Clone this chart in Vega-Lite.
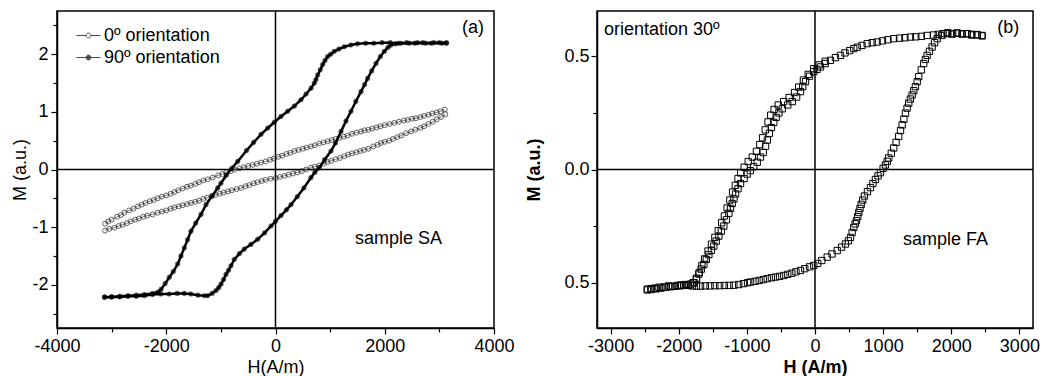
{
  "$schema": "https://vega.github.io/schema/vega-lite/v6.json",
  "padding": {"left": 11, "top": 9, "right": 0, "bottom": 2},
  "spacing": 10,
  "config": {
    "font": "Liberation Sans",
    "view": {"stroke": "black", "strokeWidth": 1.5},
    "axis": {"domainColor": "black", "domainWidth": 1.5, "tickColor": "black", "tickWidth": 1.2, "labelColor": "black", "labelFontSize": 18, "labelFont": "Liberation Sans", "titleFont": "Liberation Sans", "titleFontSize": 18, "titleColor": "black", "titleFontWeight": "normal", "grid": false, "labelFlush": false, "labelOverlap": false, "labelBound": false},
    "text": {"font": "Liberation Sans", "fontSize": 18, "color": "black"}
  },
  "datasets": {
    "a90": [
      {"b":"u","H":3130,"M":2.19},{"b":"u","H":3000,"M":2.2},{"b":"u","H":2850,"M":2.19},{"b":"u","H":2700,"M":2.2},{"b":"u","H":2550,"M":2.19},{"b":"u","H":2400,"M":2.2},{"b":"u","H":2250,"M":2.19},{"b":"u","H":2100,"M":2.2},{"b":"u","H":1950,"M":2.2},{"b":"u","H":1800,"M":2.19},{"b":"u","H":1650,"M":2.19},{"b":"u","H":1500,"M":2.18},{"b":"u","H":1380,"M":2.16},{"b":"u","H":1260,"M":2.13},{"b":"u","H":1160,"M":2.09},{"b":"u","H":1077,"M":2.05},{"b":"u","H":1010,"M":2.0},{"b":"u","H":955,"M":1.96},{"b":"u","H":905,"M":1.89},{"b":"u","H":864,"M":1.82},{"b":"u","H":820,"M":1.73},{"b":"u","H":772,"M":1.64},{"b":"u","H":740,"M":1.56},{"b":"u","H":711,"M":1.5},{"b":"u","H":650,"M":1.41},{"b":"u","H":560,"M":1.31},{"b":"u","H":467,"M":1.21},{"b":"u","H":345,"M":1.1},{"b":"u","H":223,"M":1.01},{"b":"u","H":100,"M":0.92},{"b":"u","H":-22,"M":0.82},{"b":"u","H":-140,"M":0.72},{"b":"u","H":-265,"M":0.61},{"b":"u","H":-400,"M":0.47},{"b":"u","H":-530,"M":0.33},{"b":"u","H":-692,"M":0.14},{"b":"u","H":-800,"M":0.02},{"b":"u","H":-900,"M":-0.1},{"b":"u","H":-1000,"M":-0.24},{"b":"u","H":-1058,"M":-0.32},{"b":"u","H":-1160,"M":-0.46},{"b":"u","H":-1272,"M":-0.61},{"b":"u","H":-1364,"M":-0.78},{"b":"u","H":-1460,"M":-0.93},{"b":"u","H":-1547,"M":-1.07},{"b":"u","H":-1610,"M":-1.22},{"b":"u","H":-1669,"M":-1.36},{"b":"u","H":-1730,"M":-1.5},{"b":"u","H":-1791,"M":-1.64},{"b":"u","H":-1870,"M":-1.77},{"b":"u","H":-1944,"M":-1.87},{"b":"u","H":-2020,"M":-1.98},{"b":"u","H":-2096,"M":-2.08},{"b":"u","H":-2157,"M":-2.13},{"b":"u","H":-2250,"M":-2.15},{"b":"u","H":-2400,"M":-2.17},{"b":"u","H":-2550,"M":-2.18},{"b":"u","H":-2700,"M":-2.19},{"b":"u","H":-2850,"M":-2.2},{"b":"u","H":-3000,"M":-2.21},{"b":"u","H":-3130,"M":-2.21},
      {"b":"l","H":-3130,"M":-2.22},{"b":"l","H":-3000,"M":-2.21},{"b":"l","H":-2850,"M":-2.21},{"b":"l","H":-2700,"M":-2.2},{"b":"l","H":-2550,"M":-2.2},{"b":"l","H":-2400,"M":-2.19},{"b":"l","H":-2250,"M":-2.17},{"b":"l","H":-2100,"M":-2.16},{"b":"l","H":-1950,"M":-2.16},{"b":"l","H":-1800,"M":-2.15},{"b":"l","H":-1669,"M":-2.15},{"b":"l","H":-1550,"M":-2.16},{"b":"l","H":-1420,"M":-2.18},{"b":"l","H":-1300,"M":-2.19},{"b":"l","H":-1242,"M":-2.19},{"b":"l","H":-1160,"M":-2.15},{"b":"l","H":-1089,"M":-2.1},{"b":"l","H":-1040,"M":-2.05},{"b":"l","H":-998,"M":-1.99},{"b":"l","H":-950,"M":-1.91},{"b":"l","H":-906,"M":-1.82},{"b":"l","H":-860,"M":-1.75},{"b":"l","H":-815,"M":-1.67},{"b":"l","H":-754,"M":-1.56},{"b":"l","H":-660,"M":-1.46},{"b":"l","H":-571,"M":-1.38},{"b":"l","H":-450,"M":-1.3},{"b":"l","H":-326,"M":-1.21},{"b":"l","H":-200,"M":-1.1},{"b":"l","H":-82,"M":-0.98},{"b":"l","H":0,"M":-0.9},{"b":"l","H":100,"M":-0.8},{"b":"l","H":200,"M":-0.7},{"b":"l","H":284,"M":-0.61},{"b":"l","H":400,"M":-0.47},{"b":"l","H":520,"M":-0.32},{"b":"l","H":650,"M":-0.14},{"b":"l","H":720,"M":-0.05},{"b":"l","H":802,"M":0.03},{"b":"l","H":900,"M":0.17},{"b":"l","H":1016,"M":0.32},{"b":"l","H":1100,"M":0.46},{"b":"l","H":1199,"M":0.66},{"b":"l","H":1290,"M":0.84},{"b":"l","H":1382,"M":1.01},{"b":"l","H":1470,"M":1.18},{"b":"l","H":1565,"M":1.35},{"b":"l","H":1630,"M":1.47},{"b":"l","H":1687,"M":1.58},{"b":"l","H":1760,"M":1.71},{"b":"l","H":1840,"M":1.84},{"b":"l","H":1920,"M":1.96},{"b":"l","H":1993,"M":2.05},{"b":"l","H":2060,"M":2.12},{"b":"l","H":2114,"M":2.16},{"b":"l","H":2200,"M":2.18},{"b":"l","H":2297,"M":2.19},{"b":"l","H":2450,"M":2.19},{"b":"l","H":2600,"M":2.2},{"b":"l","H":2750,"M":2.19},{"b":"l","H":2900,"M":2.2},{"b":"l","H":3050,"M":2.19},{"b":"l","H":3130,"M":2.2}
    ],
    "a0": [
      {"b":"u","H":3100,"M":1.04},{"b":"u","H":3020,"M":1.01},{"b":"u","H":2950,"M":0.99},{"b":"u","H":2870,"M":0.97},{"b":"u","H":2800,"M":0.95},{"b":"u","H":2720,"M":0.93},{"b":"u","H":2650,"M":0.91},{"b":"u","H":2570,"M":0.89},{"b":"u","H":2500,"M":0.88},{"b":"u","H":2420,"M":0.86},{"b":"u","H":2350,"M":0.85},{"b":"u","H":2260,"M":0.83},{"b":"u","H":2175,"M":0.81},{"b":"u","H":2090,"M":0.79},{"b":"u","H":2000,"M":0.77},{"b":"u","H":1920,"M":0.75},{"b":"u","H":1850,"M":0.73},{"b":"u","H":1770,"M":0.71},{"b":"u","H":1700,"M":0.69},{"b":"u","H":1630,"M":0.68},{"b":"u","H":1565,"M":0.66},{"b":"u","H":1480,"M":0.64},{"b":"u","H":1400,"M":0.62},{"b":"u","H":1320,"M":0.59},{"b":"u","H":1250,"M":0.57},{"b":"u","H":1170,"M":0.55},{"b":"u","H":1100,"M":0.53},{"b":"u","H":1030,"M":0.51},{"b":"u","H":955,"M":0.49},{"b":"u","H":880,"M":0.47},{"b":"u","H":800,"M":0.45},{"b":"u","H":720,"M":0.42},{"b":"u","H":650,"M":0.4},{"b":"u","H":570,"M":0.38},{"b":"u","H":500,"M":0.36},{"b":"u","H":420,"M":0.34},{"b":"u","H":345,"M":0.32},{"b":"u","H":270,"M":0.29},{"b":"u","H":200,"M":0.27},{"b":"u","H":120,"M":0.24},{"b":"u","H":50,"M":0.22},{"b":"u","H":-30,"M":0.19},{"b":"u","H":-100,"M":0.17},{"b":"u","H":-180,"M":0.14},{"b":"u","H":-265,"M":0.12},{"b":"u","H":-340,"M":0.1},{"b":"u","H":-420,"M":0.08},{"b":"u","H":-500,"M":0.06},{"b":"u","H":-580,"M":0.04},{"b":"u","H":-660,"M":0.02},{"b":"u","H":-750,"M":0.0},{"b":"u","H":-820,"M":-0.03},{"b":"u","H":-900,"M":-0.05},{"b":"u","H":-970,"M":-0.08},{"b":"u","H":-1050,"M":-0.1},{"b":"u","H":-1150,"M":-0.14},{"b":"u","H":-1242,"M":-0.17},{"b":"u","H":-1320,"M":-0.19},{"b":"u","H":-1400,"M":-0.22},{"b":"u","H":-1470,"M":-0.25},{"b":"u","H":-1550,"M":-0.28},{"b":"u","H":-1620,"M":-0.3},{"b":"u","H":-1700,"M":-0.33},{"b":"u","H":-1780,"M":-0.36},{"b":"u","H":-1850,"M":-0.39},{"b":"u","H":-1920,"M":-0.42},{"b":"u","H":-2000,"M":-0.45},{"b":"u","H":-2080,"M":-0.47},{"b":"u","H":-2157,"M":-0.5},{"b":"u","H":-2230,"M":-0.53},{"b":"u","H":-2300,"M":-0.55},{"b":"u","H":-2380,"M":-0.58},{"b":"u","H":-2450,"M":-0.61},{"b":"u","H":-2520,"M":-0.64},{"b":"u","H":-2600,"M":-0.68},{"b":"u","H":-2680,"M":-0.71},{"b":"u","H":-2767,"M":-0.75},{"b":"u","H":-2830,"M":-0.79},{"b":"u","H":-2900,"M":-0.82},{"b":"u","H":-3000,"M":-0.87},{"b":"u","H":-3060,"M":-0.9},{"b":"u","H":-3120,"M":-0.94},
      {"b":"l","H":-3120,"M":-1.06},{"b":"l","H":-3040,"M":-1.03},{"b":"l","H":-2950,"M":-1.01},{"b":"l","H":-2870,"M":-0.98},{"b":"l","H":-2800,"M":-0.96},{"b":"l","H":-2720,"M":-0.93},{"b":"l","H":-2650,"M":-0.9},{"b":"l","H":-2570,"M":-0.87},{"b":"l","H":-2500,"M":-0.85},{"b":"l","H":-2420,"M":-0.82},{"b":"l","H":-2350,"M":-0.8},{"b":"l","H":-2250,"M":-0.78},{"b":"l","H":-2157,"M":-0.75},{"b":"l","H":-2080,"M":-0.73},{"b":"l","H":-2000,"M":-0.71},{"b":"l","H":-1920,"M":-0.68},{"b":"l","H":-1850,"M":-0.66},{"b":"l","H":-1770,"M":-0.64},{"b":"l","H":-1700,"M":-0.62},{"b":"l","H":-1620,"M":-0.6},{"b":"l","H":-1547,"M":-0.58},{"b":"l","H":-1470,"M":-0.56},{"b":"l","H":-1400,"M":-0.54},{"b":"l","H":-1320,"M":-0.51},{"b":"l","H":-1250,"M":-0.49},{"b":"l","H":-1170,"M":-0.46},{"b":"l","H":-1100,"M":-0.44},{"b":"l","H":-1020,"M":-0.42},{"b":"l","H":-950,"M":-0.4},{"b":"l","H":-870,"M":-0.38},{"b":"l","H":-800,"M":-0.36},{"b":"l","H":-710,"M":-0.34},{"b":"l","H":-631,"M":-0.32},{"b":"l","H":-550,"M":-0.29},{"b":"l","H":-480,"M":-0.27},{"b":"l","H":-400,"M":-0.24},{"b":"l","H":-330,"M":-0.22},{"b":"l","H":-250,"M":-0.2},{"b":"l","H":-180,"M":-0.18},{"b":"l","H":-90,"M":-0.16},{"b":"l","H":0,"M":-0.15},{"b":"l","H":80,"M":-0.13},{"b":"l","H":162,"M":-0.11},{"b":"l","H":240,"M":-0.09},{"b":"l","H":320,"M":-0.07},{"b":"l","H":400,"M":-0.05},{"b":"l","H":480,"M":-0.03},{"b":"l","H":560,"M":0.0},{"b":"l","H":650,"M":0.03},{"b":"l","H":720,"M":0.05},{"b":"l","H":800,"M":0.07},{"b":"l","H":880,"M":0.1},{"b":"l","H":950,"M":0.13},{"b":"l","H":1020,"M":0.15},{"b":"l","H":1100,"M":0.18},{"b":"l","H":1180,"M":0.2},{"b":"l","H":1260,"M":0.23},{"b":"l","H":1330,"M":0.26},{"b":"l","H":1400,"M":0.28},{"b":"l","H":1480,"M":0.3},{"b":"l","H":1550,"M":0.32},{"b":"l","H":1620,"M":0.34},{"b":"l","H":1700,"M":0.36},{"b":"l","H":1790,"M":0.4},{"b":"l","H":1870,"M":0.43},{"b":"l","H":1930,"M":0.46},{"b":"l","H":2000,"M":0.48},{"b":"l","H":2080,"M":0.5},{"b":"l","H":2150,"M":0.53},{"b":"l","H":2230,"M":0.56},{"b":"l","H":2300,"M":0.59},{"b":"l","H":2390,"M":0.63},{"b":"l","H":2480,"M":0.66},{"b":"l","H":2560,"M":0.69},{"b":"l","H":2650,"M":0.72},{"b":"l","H":2720,"M":0.75},{"b":"l","H":2800,"M":0.79},{"b":"l","H":2880,"M":0.83},{"b":"l","H":2950,"M":0.87},{"b":"l","H":3030,"M":0.91},{"b":"l","H":3110,"M":0.96}
    ],
    "fb": [
      {"H":2450,"M":0.592},{"H":2380,"M":0.596},{"H":2300,"M":0.594},{"H":2230,"M":0.6},{"H":2160,"M":0.598},{"H":2090,"M":0.602},{"H":2020,"M":0.6},{"H":1950,"M":0.604},{"H":1880,"M":0.6},{"H":1810,"M":0.597},{"H":1740,"M":0.594},{"H":1646,"M":0.592},{"H":1560,"M":0.588},{"H":1480,"M":0.586},{"H":1401,"M":0.585},{"H":1320,"M":0.582},{"H":1240,"M":0.58},{"H":1156,"M":0.578},{"H":1070,"M":0.573},{"H":990,"M":0.568},{"H":912,"M":0.563},{"H":840,"M":0.56},{"H":766,"M":0.556},{"H":690,"M":0.548},{"H":620,"M":0.54},{"H":569,"M":0.534},{"H":510,"M":0.525},{"H":440,"M":0.515},{"H":374,"M":0.504},{"H":300,"M":0.494},{"H":227,"M":0.482},{"H":150,"M":0.468},{"H":81,"M":0.453},{"H":30,"M":0.442},{"H":-18,"M":0.432},{"H":-80,"M":0.412},{"H":-139,"M":0.388},{"H":-180,"M":0.366},{"H":-213,"M":0.344},{"H":-270,"M":0.32},{"H":-334,"M":0.3},{"H":-400,"M":0.285},{"H":-481,"M":0.268},{"H":-530,"M":0.25},{"H":-570,"M":0.23},{"H":-605,"M":0.208},{"H":-640,"M":0.185},{"H":-670,"M":0.16},{"H":-700,"M":0.13},{"H":-726,"M":0.103},{"H":-760,"M":0.075},{"H":-800,"M":0.055},{"H":-848,"M":0.032},{"H":-900,"M":0.012},{"H":-950,"M":-0.005},{"H":-995,"M":-0.02},{"H":-1040,"M":-0.04},{"H":-1093,"M":-0.062},{"H":-1130,"M":-0.085},{"H":-1166,"M":-0.108},{"H":-1190,"M":-0.13},{"H":-1215,"M":-0.15},{"H":-1240,"M":-0.172},{"H":-1264,"M":-0.193},{"H":-1300,"M":-0.222},{"H":-1338,"M":-0.25},{"H":-1375,"M":-0.272},{"H":-1411,"M":-0.294},{"H":-1450,"M":-0.316},{"H":-1485,"M":-0.338},{"H":-1520,"M":-0.357},{"H":-1558,"M":-0.376},{"H":-1595,"M":-0.397},{"H":-1631,"M":-0.419},{"H":-1670,"M":-0.44},{"H":-1705,"M":-0.462},{"H":-1740,"M":-0.485},{"H":-1775,"M":-0.5},{"H":-1826,"M":-0.506},{"H":-1900,"M":-0.508},{"H":-1970,"M":-0.51},{"H":-2021,"M":-0.512},{"H":-2090,"M":-0.516},{"H":-2150,"M":-0.514},{"H":-2218,"M":-0.519},{"H":-2290,"M":-0.52},{"H":-2350,"M":-0.524},{"H":-2410,"M":-0.526},{"H":-2461,"M":-0.528},
      {"H":150,"M":0.478},{"H":60,"M":0.462},{"H":-20,"M":0.445},{"H":-100,"M":0.42},{"H":-170,"M":0.395},{"H":-240,"M":0.364},{"H":-300,"M":0.34},{"H":-380,"M":0.318},{"H":-460,"M":0.3},{"H":-540,"M":0.285},{"H":-600,"M":0.265},{"H":-650,"M":0.24},{"H":-690,"M":0.21},{"H":-730,"M":0.175},{"H":-770,"M":0.14},{"H":-810,"M":0.11},{"H":-860,"M":0.08},{"H":-920,"M":0.055},{"H":-980,"M":0.035},{"H":-1040,"M":0.01},{"H":-1090,"M":-0.015},{"H":-1130,"M":-0.04},{"H":-1170,"M":-0.07},{"H":-1210,"M":-0.1},{"H":-1250,"M":-0.135},{"H":-1290,"M":-0.17},{"H":-1330,"M":-0.205},{"H":-1370,"M":-0.235},{"H":-1420,"M":-0.27},{"H":-1470,"M":-0.3},{"H":-1520,"M":-0.33},{"H":-1570,"M":-0.36},{"H":-1620,"M":-0.395},{"H":-1660,"M":-0.425},{"H":-1700,"M":-0.455},{"H":-1740,"M":-0.48},{"H":-1790,"M":-0.5},{"H":-1860,"M":-0.51},
      {"H":-2461,"M":-0.532},{"H":-2400,"M":-0.53},{"H":-2330,"M":-0.527},{"H":-2260,"M":-0.524},{"H":-2190,"M":-0.52},{"H":-2120,"M":-0.518},{"H":-2050,"M":-0.516},{"H":-1980,"M":-0.514},{"H":-1924,"M":-0.511},{"H":-1860,"M":-0.512},{"H":-1800,"M":-0.514},{"H":-1740,"M":-0.515},{"H":-1680,"M":-0.515},{"H":-1610,"M":-0.514},{"H":-1540,"M":-0.514},{"H":-1470,"M":-0.513},{"H":-1400,"M":-0.513},{"H":-1330,"M":-0.512},{"H":-1260,"M":-0.512},{"H":-1191,"M":-0.511},{"H":-1120,"M":-0.508},{"H":-1050,"M":-0.504},{"H":-990,"M":-0.5},{"H":-946,"M":-0.497},{"H":-880,"M":-0.494},{"H":-820,"M":-0.49},{"H":-760,"M":-0.486},{"H":-701,"M":-0.482},{"H":-640,"M":-0.478},{"H":-580,"M":-0.475},{"H":-520,"M":-0.472},{"H":-458,"M":-0.468},{"H":-400,"M":-0.463},{"H":-340,"M":-0.458},{"H":-280,"M":-0.452},{"H":-213,"M":-0.446},{"H":-150,"M":-0.438},{"H":-80,"M":-0.43},{"H":-18,"M":-0.424},{"H":40,"M":-0.415},{"H":100,"M":-0.402},{"H":179,"M":-0.387},{"H":250,"M":-0.373},{"H":326,"M":-0.358},{"H":390,"M":-0.343},{"H":447,"M":-0.329},{"H":490,"M":-0.315},{"H":521,"M":-0.3},{"H":545,"M":-0.278},{"H":569,"M":-0.256},{"H":590,"M":-0.24},{"H":609,"M":-0.226},{"H":627,"M":-0.208},{"H":643,"M":-0.19},{"H":660,"M":-0.172},{"H":678,"M":-0.154},{"H":700,"M":-0.135},{"H":726,"M":-0.117},{"H":770,"M":-0.098},{"H":814,"M":-0.08},{"H":850,"M":-0.062},{"H":887,"M":-0.044},{"H":925,"M":-0.028},{"H":961,"M":-0.014},{"H":1000,"M":0.005},{"H":1034,"M":0.02},{"H":1060,"M":0.036},{"H":1083,"M":0.051},{"H":1120,"M":0.072},{"H":1156,"M":0.095},{"H":1190,"M":0.12},{"H":1229,"M":0.146},{"H":1255,"M":0.172},{"H":1279,"M":0.197},{"H":1305,"M":0.222},{"H":1328,"M":0.249},{"H":1352,"M":0.271},{"H":1376,"M":0.293},{"H":1400,"M":0.311},{"H":1426,"M":0.329},{"H":1450,"M":0.348},{"H":1474,"M":0.366},{"H":1500,"M":0.388},{"H":1523,"M":0.41},{"H":1560,"M":0.44},{"H":1596,"M":0.468},{"H":1620,"M":0.486},{"H":1646,"M":0.504},{"H":1680,"M":0.522},{"H":1719,"M":0.541},{"H":1755,"M":0.56},{"H":1793,"M":0.578},{"H":1860,"M":0.592},{"H":1939,"M":0.6},{"H":2010,"M":0.598},{"H":2080,"M":0.603},{"H":2160,"M":0.6},{"H":2233,"M":0.6},{"H":2300,"M":0.597},{"H":2380,"M":0.594},{"H":2453,"M":0.59}
    ]
  },
  "hconcat": [
    {
      "width": 437,
      "height": 317,
      "encoding": {
        "x": {"field": "H", "type": "quantitative", "scale": {"domain": [-4000, 4000], "nice": false, "zero": false},
          "axis": {"values": [-4000, -3000, -2000, -1000, 0, 1000, 2000, 3000, 4000], "title": "H(A/m)", "labelExpr": "indexof([-4000,-2000,0,2000,4000], datum.value) >= 0 ? '' + datum.value : ''", "tickSize": {"condition": {"test": "indexof([-4000,-2000,0,2000,4000], datum.value) >= 0", "value": 6}, "value": 4}, "labelPadding": 3, "titlePadding": 3}},
        "y": {"field": "M", "type": "quantitative", "scale": {"domain": [-2.75, 2.75], "nice": false, "zero": false},
          "axis": {"values": [-2.5, -2, -1.5, -1, -0.5, 0, 0.5, 1, 1.5, 2, 2.5], "title": "M (a.u.)", "labelExpr": "indexof([-2,-1,0,1,2], datum.value) >= 0 ? '' + datum.value : ''", "tickSize": {"condition": {"test": "indexof([-2,-1,0,1,2], datum.value) >= 0", "value": 6}, "value": 4}, "labelPadding": 3, "titlePadding": 2}}
      },
      "layer": [
        {
          "data": {"values": [{"H": 0, "M": -2.75, "M2": 2.75}]},
          "mark": {"type": "rule", "color": "black", "strokeWidth": 1.5},
          "encoding": {"y2": {"field": "M2"}}
        },
        {
          "data": {"values": [{"H": -4000, "H2": 4000, "M": 0}]},
          "mark": {"type": "rule", "color": "black", "strokeWidth": 1.5},
          "encoding": {"x2": {"field": "H2"}}
        },
        {
          "data": {"name": "a0"},
          "mark": {"type": "line", "color": "#555555", "strokeWidth": 0.8},
          "encoding": {"detail": {"field": "b", "type": "nominal"}}
        },
        {
          "data": {"name": "a0"},
          "mark": {"type": "point", "shape": "circle", "filled": true, "size": 24, "stroke": "#222222", "strokeWidth": 1},
          "encoding": {
            "fill": {"datum": "0º orientation", "type": "nominal", "scale": {"domain": ["0º orientation", "90º orientation"], "range": ["transparent", "black"]},
              "legend": {"orient": "none", "legendX": 19, "legendY": 12, "title": null, "symbolType": "M-1,0L-0.2,0M0.2,0L1,0M-0.2,0A0.2,0.2,0,1,1,0.2,0A0.2,0.2,0,1,1,-0.2,0Z", "symbolSize": 576, "symbolStrokeColor": "black", "symbolStrokeWidth": 1, "labelFontSize": 18, "labelFont": "Liberation Sans", "labelColor": "black", "labelOffset": 3, "rowPadding": 0, "padding": 0}}
          }
        },
        {
          "data": {"name": "a90"},
          "mark": {"type": "line", "color": "black", "strokeWidth": 2.5},
          "encoding": {"detail": {"field": "b", "type": "nominal"}}
        },
        {
          "data": {"name": "a90"},
          "mark": {"type": "point", "shape": "circle", "filled": true, "size": 22, "stroke": "black", "strokeWidth": 0.5},
          "encoding": {
            "fill": {"datum": "90º orientation", "type": "nominal", "scale": {"domain": ["0º orientation", "90º orientation"], "range": ["transparent", "black"]},
              "legend": {"orient": "none", "legendX": 19, "legendY": 12, "title": null, "symbolType": "M-1,0L-0.2,0M0.2,0L1,0M-0.2,0A0.2,0.2,0,1,1,0.2,0A0.2,0.2,0,1,1,-0.2,0Z", "symbolSize": 576, "symbolStrokeColor": "black", "symbolStrokeWidth": 1, "labelFontSize": 18, "labelFont": "Liberation Sans", "labelColor": "black", "labelOffset": 3, "rowPadding": 0, "padding": 0}}
          }
        },
        {
          "data": {"values": [{"H": 3616, "M": 2.45, "t": "(a)"}, {"H": 2252, "M": -1.21, "t": "sample SA"}]},
          "mark": {"type": "text", "align": "center", "baseline": "middle", "fontSize": 18},
          "encoding": {"text": {"field": "t"}}
        }
      ]
    },
    {
      "width": 436,
      "height": 317,
      "encoding": {
        "x": {"field": "H", "type": "quantitative", "scale": {"domain": [-3200, 3200], "nice": false, "zero": false},
          "axis": {"values": [-3000, -2500, -2000, -1500, -1000, -500, 0, 500, 1000, 1500, 2000, 2500, 3000], "title": "H (A/m)", "titleFontWeight": "bold", "labelExpr": "indexof([-3000,-2000,-1000,0,1000,2000,3000], datum.value) >= 0 ? '' + datum.value : ''", "tickSize": {"condition": {"test": "indexof([-3000,-2000,-1000,0,1000,2000,3000], datum.value) >= 0", "value": 6}, "value": 4}, "labelPadding": 3, "titlePadding": 3}},
        "y": {"field": "M", "type": "quantitative", "scale": {"domain": [-0.7, 0.7], "nice": false, "zero": false},
          "axis": {"values": [-0.5, -0.25, 0, 0.25, 0.5], "title": "M (a.u.)", "titleFontWeight": "bold", "labelExpr": "datum.value === 0 ? '0.0' : (abs(datum.value) === 0.5 ? '0.5' : '')", "tickSize": {"condition": {"test": "datum.value === 0 || abs(datum.value) === 0.5", "value": 6}, "value": 4}, "labelPadding": 2, "titlePadding": 20}}
      },
      "layer": [
        {
          "data": {"values": [{"H": 0, "M": -0.7, "M2": 0.7}]},
          "mark": {"type": "rule", "color": "black", "strokeWidth": 1.5},
          "encoding": {"y2": {"field": "M2"}}
        },
        {
          "data": {"values": [{"H": -3200, "H2": 3200, "M": 0}]},
          "mark": {"type": "rule", "color": "black", "strokeWidth": 1.5},
          "encoding": {"x2": {"field": "H2"}}
        },
        {
          "data": {"name": "fb"},
          "mark": {"type": "point", "shape": "square", "filled": false, "size": 40, "stroke": "black", "strokeWidth": 1, "opacity": 1}
        },
        {
          "data": {"values": [{"H": 2838, "M": 0.624, "t": "(b)"}, {"H": 1914, "M": -0.31, "t": "sample FA"}]},
          "mark": {"type": "text", "align": "center", "baseline": "middle", "fontSize": 18},
          "encoding": {"text": {"field": "t"}}
        },
        {
          "data": {"values": [{"H": -3098, "M": 0.614, "t": "orientation 30º"}]},
          "mark": {"type": "text", "align": "left", "baseline": "middle", "fontSize": 18},
          "encoding": {"text": {"field": "t"}}
        }
      ]
    }
  ]
}
